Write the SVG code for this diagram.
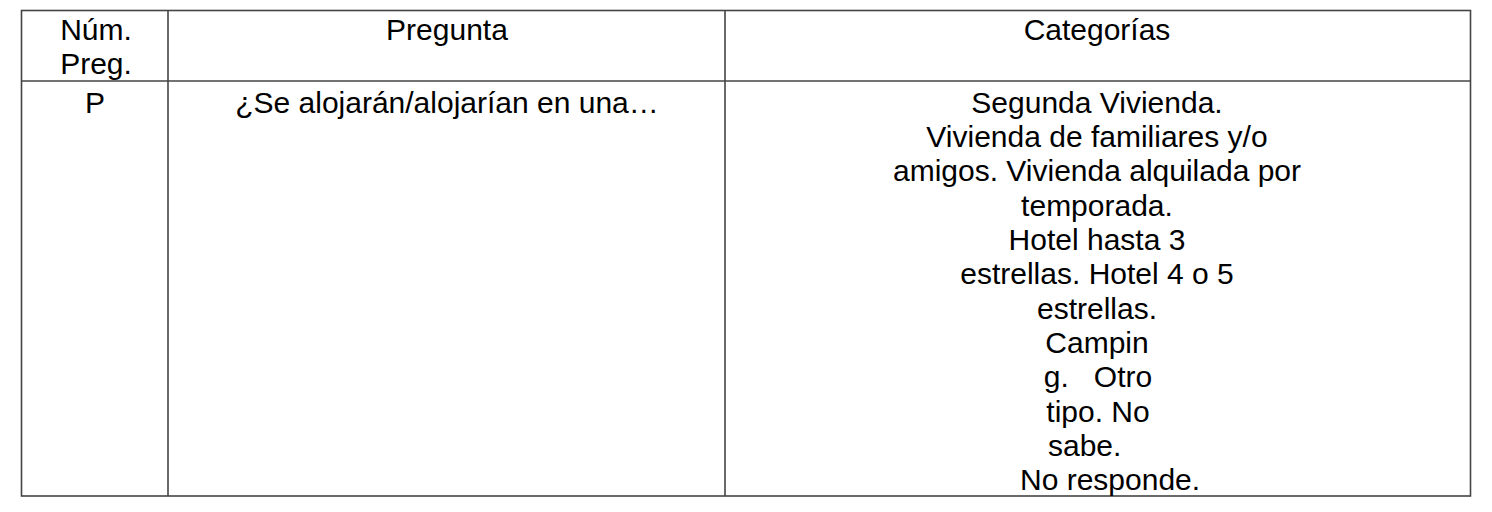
<svg xmlns="http://www.w3.org/2000/svg" width="1492" height="512" viewBox="0 0 1492 512">
<style>
.grid{stroke:#444;stroke-width:1.6;fill:none}
text{font-family:"Liberation Sans",Arial,sans-serif;font-size:30px;fill:#000}
.c{text-anchor:middle}
</style>
<rect width="1492" height="512" fill="#fff"/>
<g id="table-grid">
<rect class="grid" x="21.5" y="10.5" width="1449" height="485.5"/>
<line class="grid" x1="21.5" y1="81" x2="1470.5" y2="81"/>
<line class="grid" x1="168" y1="10.5" x2="168" y2="496"/>
<line class="grid" x1="725" y1="10.5" x2="725" y2="496"/>
</g>
<g id="header">
<text class="c" x="96" y="40">Núm.</text>
<text class="c" x="96" y="74">Preg.</text>
<text class="c" x="447" y="40">Pregunta</text>
<text class="c" x="1097" y="40">Categorías</text>
</g>
<g id="row-num">
<text class="c" x="95" y="112.5">P</text>
</g>
<g id="row-pregunta">
<text class="c" x="447" y="112.5">¿Se alojarán/alojarían en una…</text>
</g>
<g id="row-categorias">
<text class="c" x="1097" y="112.5">Segunda Vivienda.</text>
<text class="c" x="1097" y="146.85">Vivienda de familiares y/o</text>
<text class="c" x="1097" y="181.2">amigos. Vivienda alquilada por</text>
<text class="c" x="1097" y="215.55">temporada.</text>
<text class="c" x="1097" y="249.9">Hotel hasta 3</text>
<text class="c" x="1097" y="284.25">estrellas. Hotel 4 o 5</text>
<text class="c" x="1097" y="318.6">estrellas.</text>
<text class="c" x="1097" y="352.95">Campin</text>
<text class="c" x="1098" y="387.3" xml:space="preserve">g.   Otro</text>
<text class="c" x="1098" y="421.65">tipo. No</text>
<text x="1048" y="456">sabe.</text>
<text x="1020" y="490.3">No responde.</text>
</g>
</svg>
